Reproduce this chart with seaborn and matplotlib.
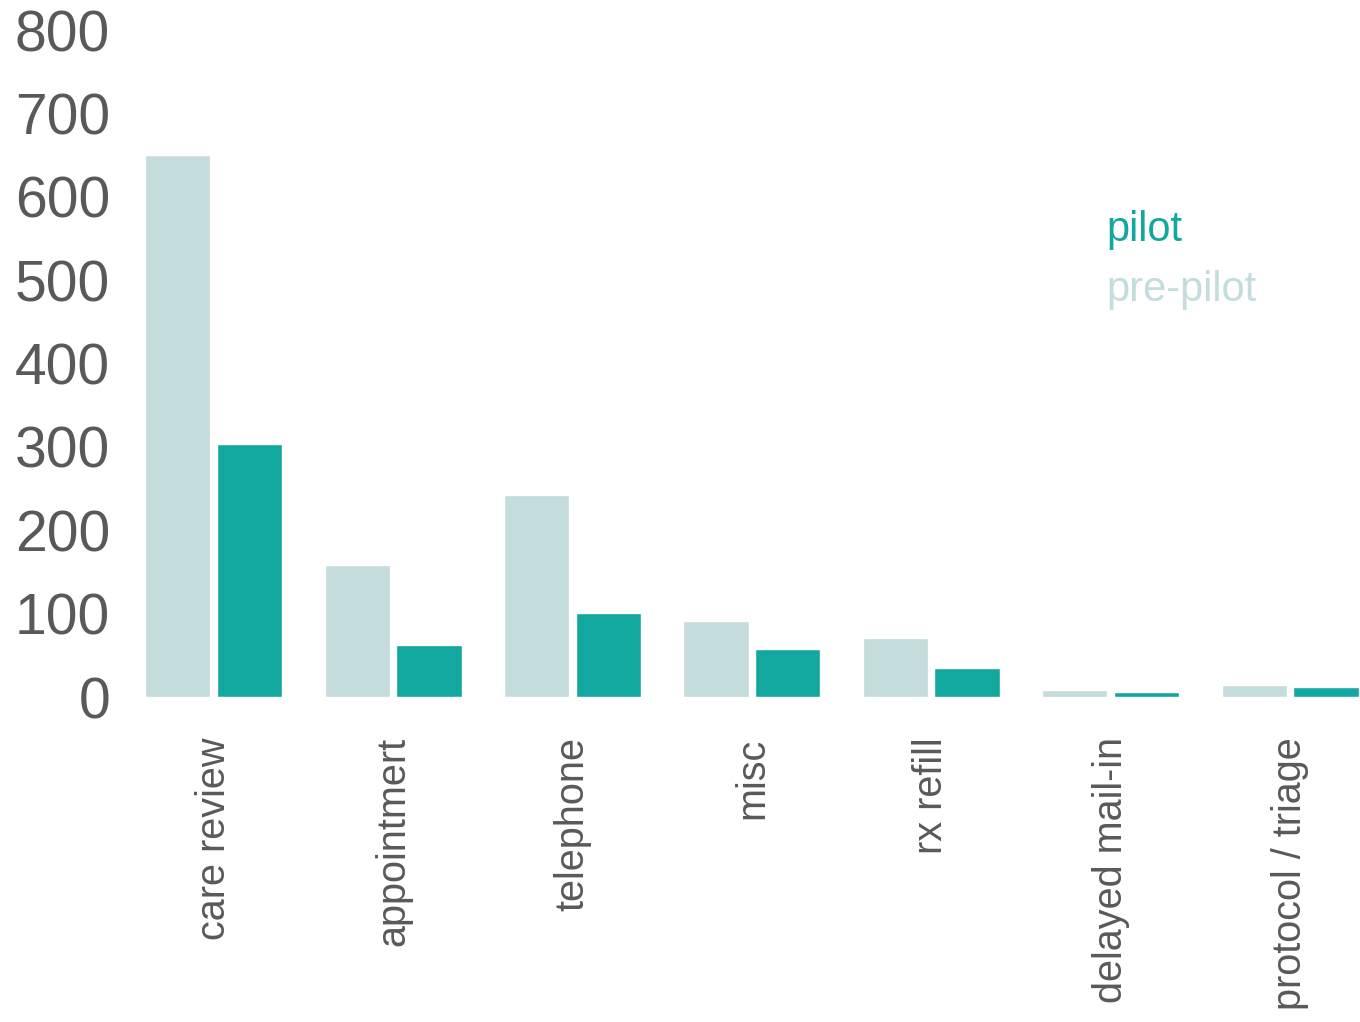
import matplotlib
matplotlib.use("Agg")
import matplotlib.pyplot as plt
import seaborn as sns
import pandas as pd
from matplotlib.lines import Line2D

categories = ["care review", "appointmert", "telephone", "misc",
              "rx refill", "delayed mail-in", "protocol / triage"]
pre_pilot = [650, 158, 242, 91, 71, 8, 14]
pilot = [303, 62, 101, 58, 35, 6, 12]
y_ticks = [0, 100, 200, 300, 400, 500, 600, 700, 800]

PRE_COLOR = "#C4DCDC"
PILOT_COLOR = "#12A8A0"
TEXT_COLOR = "#58595B"

df = pd.DataFrame({
    "category": categories * 2,
    "count": pre_pilot + pilot,
    "period": ["pre-pilot"] * len(categories) + ["pilot"] * len(categories),
})

sns.set_theme(style="white")
plt.rcParams["font.family"] = ["Liberation Sans", "DejaVu Sans"]

fig = plt.figure(figsize=(13.6, 10.22), dpi=100)
ax = fig.add_axes([124 / 1360, 1 - 697 / 1022, 1 - 124 / 1360, (697 - 30) / 1022])

sns.barplot(data=df, x="category", y="count", hue="period",
            hue_order=["pre-pilot", "pilot"], order=categories,
            palette=[PRE_COLOR, PILOT_COLOR], width=0.8, gap=0.09,
            saturation=1, legend=False, ax=ax)

ax.set_xlim(-0.5, 6.39)
ax.set_ylim(0, 800)
ax.set_yticks(y_ticks)
ax.set_yticklabels([str(t) for t in y_ticks])
ax.set_xlabel("")
ax.set_ylabel("")
sns.despine(ax=ax, left=True, bottom=True)
ax.tick_params(axis="y", length=0, pad=10, labelsize=41, labelcolor=TEXT_COLOR)
ax.tick_params(axis="x", length=0, pad=29, labelsize=28.5, labelcolor=TEXT_COLOR)
for lbl in ax.get_xticklabels():
    lbl.set_rotation(90)
    lbl.set_rotation_mode("default")
    lbl.set_ha("center")
    lbl.set_va("top")

handles = [Line2D([], [], linestyle="none"), Line2D([], [], linestyle="none")]
leg = ax.legend(handles, ["pilot", "pre-pilot"], loc="upper left",
                bbox_to_anchor=((1069 - 124) / 1236, (697 - 172) / 667),
                frameon=False, handlelength=0, handletextpad=0,
                labelspacing=0.5, fontsize=30)
for txt, col in zip(leg.get_texts(), [PILOT_COLOR, PRE_COLOR]):
    txt.set_color(col)

fig.savefig("out.png", dpi=100)
